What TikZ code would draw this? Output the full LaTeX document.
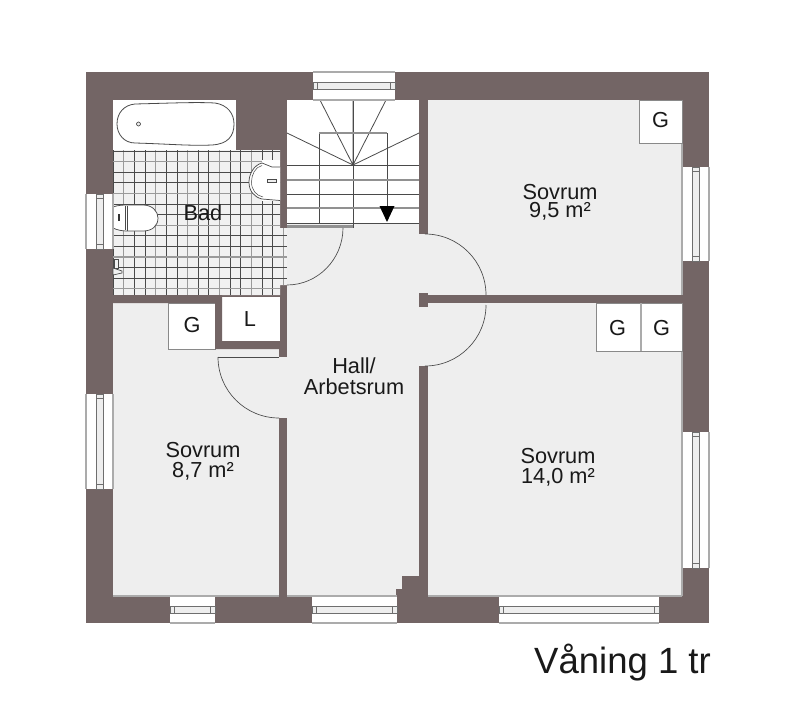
\documentclass[tikz,border=0pt]{standalone}
\usepackage{fontspec}
\setmainfont{Liberation Sans}
\definecolor{wallc}{HTML}{736565}
\definecolor{roomc}{HTML}{EEEEEE}
\definecolor{tilec}{HTML}{F1F1F1}
\definecolor{edgec}{HTML}{ABABAB}
\definecolor{linec}{HTML}{4A4A4A}
\tikzset{
  wall/.style={fill=wallc,draw=none},
  room/.style={fill=roomc,draw=none},
  closet/.style={fill=white,draw=edgec!80!black,line width=0.5pt},
  fixture/.style={fill=white,draw=linec,line width=0.55pt},
  doorarc/.style={draw=linec,line width=0.5pt},
  stairline/.style={draw=linec,line width=0.6pt},
  stairsoft/.style={draw=edgec!85!black,line width=0.9pt},
  tileA/.style={draw=linec,line width=0.55pt},
  tileB/.style={draw=edgec!90!black,line width=1pt},
  label/.style={font=\fontsize{16.3}{13.6}\selectfont,align=center,text=black!90,inner sep=0pt},
  labelwide/.style={font=\fontsize{16.3}{15.4}\selectfont,align=center,text=black!90,inner sep=0pt},
  glabel/.style={font=\fontsize{16.3}{15}\selectfont,text=black!90,inner sep=0pt},
  winedge/.style={draw=edgec,line width=0.9pt},
  winbar/.style={fill=roomc,draw=linec!80,line width=0.4pt},
}
\newcommand{\hwin}[4]{% x1 x2 ytop ybottom
  \fill[white] (#1,#3) rectangle (#2,#4);
  \draw[winedge] (#1,#3) -- (#2,#3) (#1,#4) -- (#2,#4);
  \pgfmathsetmacro{\barA}{#3+10}\pgfmathsetmacro{\barB}{#3+17}
  \pgfmathsetmacro{\endA}{#1+4.5}\pgfmathsetmacro{\endB}{#2-4.5}
  \draw[winbar] (#1,\barA) rectangle (#2,\barB);
  \draw[linec!80,line width=0.4pt] (\endA,\barA) -- (\endA,\barB) (\endB,\barA) -- (\endB,\barB);
}
\newcommand{\vwin}[4]{% y1 y2 xleft xright
  \fill[white] (#3,#1) rectangle (#4,#2);
  \draw[winedge] (#3,#1) -- (#3,#2) (#4,#1) -- (#4,#2);
  \pgfmathsetmacro{\barA}{#3+10}\pgfmathsetmacro{\barB}{#3+17}
  \pgfmathsetmacro{\endA}{#1+4.5}\pgfmathsetmacro{\endB}{#2-4.5}
  \draw[winbar] (\barA,#1) rectangle (\barB,#2);
  \draw[linec!80,line width=0.4pt] (\barA,\endA) -- (\barB,\endA) (\barA,\endB) -- (\barB,\endB);
}
\begin{document}
\begin{tikzpicture}[x=0.75pt,y=-0.75pt]
\useasboundingbox (0,0) rectangle (800,717);
\fill[white] (0,0) rectangle (800,717);
% outer walls
\fill[wall] (86,72) rectangle (709,623);
% rooms
\fill[room] (287,223) rectangle (419,596);
\fill[room] (419,234) rectangle (428,295);
\fill[room] (419,303) rectangle (428,366);
\fill[room] (428,100) rectangle (682,295);
\fill[room] (428,303) rectangle (682,596);
\fill[room] (113,303) rectangle (279,596);
\fill[room] (279,357) rectangle (287,418);
% nib in hall corner
\fill[wall] (396,596) -- (396,589) -- (402,589) -- (402,576) -- (419,576) -- (419,597) -- cycle;
% room edge lines
\draw[edgec,line width=0.8pt] (113,596) -- (279,596) (287,596) -- (396,596) (428,596) -- (682,596) (682,100) -- (682,295) (682,303) -- (682,596);
% partition with stub
\fill[wall] (428,295) rectangle (682,303);
\fill[wall] (419,293) rectangle (428,307);
% bath: tub niche
\fill[white] (113,100) rectangle (236,150);
\draw[fixture,line width=0.6pt] (135,104) .. controls (175,103) and (195,102) .. (215,103) .. controls (228,105) and (234,114) .. (234,124) .. controls (234,136) and (228,144) .. (212,145) .. controls (190,146) and (170,144) .. (135,143) .. controls (124,143) and (117,134) .. (117,124) .. controls (117,113) and (124,105) .. (135,104) -- cycle;
\draw[linec,fill=roomc,line width=0.5pt] (138.5,124) circle (2);
% tile floor
\fill[tilec] (113,150) -- (280,150) -- (280,228) -- (287,228) -- (287,285) -- (280,285) -- (280,295) -- (113,295) -- cycle;
\begin{scope}
\clip (113,150) -- (280,150) -- (280,228) -- (287,228) -- (287,285) -- (280,285) -- (280,295) -- (113,295) -- cycle;
\foreach \i in {0,...,17}{
  \pgfmathsetmacro{\xx}{113+10.65*\i}
  \pgfmathtruncatemacro{\mm}{mod(\i,3)}
  \ifnum\mm=1 \draw[tileB] (\xx,150) -- (\xx,295);\else \draw[tileA] (\xx,150) -- (\xx,295);\fi
}
\foreach \i in {0,...,13}{
  \pgfmathsetmacro{\yy}{151+10.6*\i}
  \pgfmathtruncatemacro{\mm}{mod(\i,3)}
  \ifnum\mm=1 \draw[tileB] (113,\yy) -- (287,\yy);\else \draw[tileA] (113,\yy) -- (287,\yy);\fi
}
\end{scope}
% sink
\fill[white] (262,160) rectangle (280,201);
\draw[fixture] (280,167) -- (272,167) -- (262,163) .. controls (254,165) and (249,174) .. (249,182) .. controls (249,191) and (254,197) .. (262,199) -- (280,200.5);
\draw[linec,line width=0.4pt] (262,165.5) .. controls (255,167) and (251.5,175) .. (251.5,182) .. controls (251.5,190) and (256,195.5) .. (263,197);
\draw[fill=roomc,draw=linec,line width=0.4pt] (267,179.5) rectangle (276,182.5);
% toilet
\draw[fixture] (113,207) .. controls (118,205) and (125,205) .. (127,205) -- (143,205) .. controls (152,205) and (158,211) .. (158,218) .. controls (158,226) and (152,231) .. (143,231) -- (127,231) .. controls (122,231) and (117,230) .. (113,228);
\draw[linec,line width=0.5pt] (125,206) -- (125,230) (127,205.5) -- (127,230.5);
\fill[black!80] (118,214) rectangle (120,221);
% faucet
\draw[linec,line width=0.5pt,fill=tilec] (114,259) rectangle (118,268);
\draw[linec,line width=0.5pt,fill=tilec] (113,268) -- (122,271) -- (122,273) -- (113,275) -- cycle;
% stairs
\fill[white] (287,100) rectangle (419,223);
\coordinate (sc) at (353,165);
\draw[stairline] (sc) -- (320,100) (sc) -- (353,100) (sc) -- (386,100) (sc) -- (287,133) (sc) -- (419,133);
\draw[stairline] (353,100) -- (353,228);
\draw[stairline] (319,133) -- (319,223) (387,133) -- (387,215);
\draw[stairsoft] (319,133) -- (387,133);
\draw[stairline] (287,165) -- (419,165) (287,194) -- (419,194) (287,223) -- (419,223);
\draw[stairsoft] (287,180) -- (419,180) (287,208) -- (419,208);
\fill[black] (379.5,206) -- (394.5,206) -- (387,222) -- cycle;
\draw[edgec!85!black,line width=2pt] (287,226.5) -- (353,226.5);
% bath door
\draw[doorarc] (343,228) .. controls (343,259) and (318,285) .. (287,285);
% closets
\draw[closet] (639.5,100) rectangle (682,143);
\draw[closet] (596,303) rectangle (641,351);
\draw[closet] (641,303) rectangle (682,351);
\draw[edgec,line width=1pt] (641,303) -- (641,351);
\draw[closet] (168,303) rectangle (215,349);
\fill[white] (222,297) rectangle (280,341);
\fill[wall] (113,295) -- (222,295) -- (222,341) -- (280,341) -- (280,349) -- (215,349) -- (215,303) -- (113,303) -- cycle;
% doors
\draw[doorarc] (425,234) .. controls (458.7,234) and (486,261.3) .. (486,295);
\draw[doorarc] (486,305) .. controls (486,338.7) and (458.7,366) .. (425,366);
\draw[doorarc] (218,357) .. controls (218,390.7) and (245.3,418) .. (279,418);
\draw[doorarc] (218,357) -- (279,357);
% windows
\hwin{313}{395}{72}{100}
\hwin{170}{215}{596}{623}
\hwin{312}{397}{596}{623}
\hwin{499}{659}{596}{623}
\vwin{194}{249}{86}{113}
\vwin{394}{489}{86}{113}
\vwin{167}{261}{682}{709}
\vwin{432}{568}{682}{709}
% labels
\node[label] (bad) at (203,213) {Bad};
\node[label] (rum1) at (560,202.5) {Sovrum\\9,5 m²};
\node[labelwide] (hall) at (354,376) {Hall/\\Arbetsrum};
\node[labelwide] (rum2) at (203,461.5) {Sovrum\\8,7 m²};
\node[labelwide] (rum3) at (558,467.5) {Sovrum\\14,0 m²};
\node[glabel] (g1) at (660.5,120.5) {G};
\node[glabel] (g2) at (617.5,328) {G};
\node[glabel] (g3) at (661.5,328) {G};
\node[glabel] (g4) at (192,325) {G};
\node[glabel] (l1) at (250,319) {L};
\node[font=\fontsize{27.4}{30}\selectfont,text=black!90,inner sep=0pt] (title) at (622.5,663) {Våning 1 tr};
\end{tikzpicture}
\end{document}
